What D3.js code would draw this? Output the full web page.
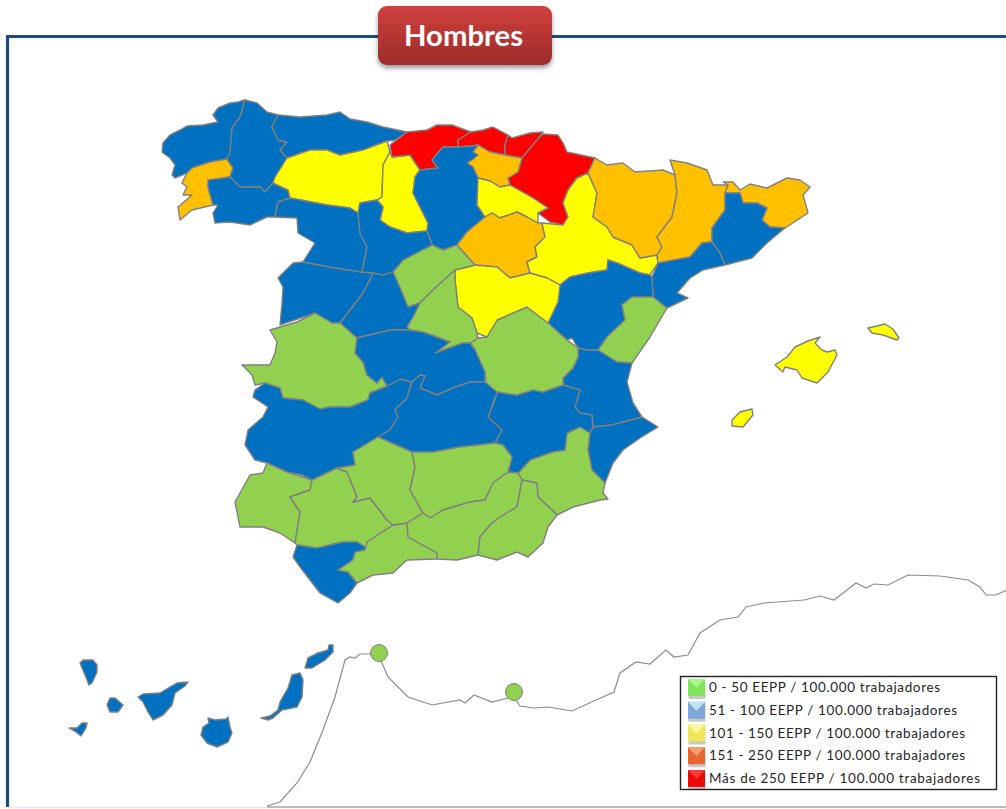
<!DOCTYPE html>
<html lang="es"><head><meta charset="utf-8"><title>Hombres</title>
<script src="https://cdn.jsdelivr.net/npm/d3@7/dist/d3.min.js"></script>
<style>html,body{margin:0;padding:0;background:#fff}svg{display:block}</style></head>
<body><svg id="c" width="1006" height="809"></svg>
<script>
const title = "Hombres";
const legendLabels = ["0 - 50 EEPP / 100.000 trabajadores","51 - 100 EEPP / 100.000 trabajadores","101 - 150 EEPP / 100.000 trabajadores","151 - 250 EEPP / 100.000 trabajadores","Más de 250 EEPP / 100.000 trabajadores"];
const legendEnds = [940,957,965,965,980];
const levelIds = [0,1,2,3,4];
const levelColors = ["#92d050","#006fc0","#ffff00","#ffc000","#ff0000"];
const swatchColors = ["#7fe35c","#7fa8d8","#efe65a","#e8652e","#ee0a0a"];
const swatchLights = ["#a8f58a","#c4e2f8","#fbf6a0","#f9a070","#ff3a3a"];

const provinceNames = ["A Coruña","Pontevedra","Lugo","Ourense","Asturias","León","Palencia","Cantabria","Bizkaia","Gipuzkoa","Navarra","Álava","Burgos","La Rioja","Soria","Zaragoza","Huesca","Lleida","Girona","Barcelona","Tarragona","Teruel","Castellón","Valencia","Alicante","Murcia","Albacete","Cuenca","Guadalajara","Segovia","Madrid","Ávila","Salamanca","Zamora","Valladolid","Cáceres","Badajoz","Toledo","Ciudad Real","Huelva","Sevilla","Cádiz","Málaga","Córdoba","Jaén","Granada","Almería","Mallorca","Menorca","Ibiza","La Palma","La Gomera","El Hierro","Tenerife","Gran Canaria","Fuerteventura","Lanzarote"];
const provinceLevels = [1,3,1,1,1,2,2,4,4,4,4,3,1,2,3,2,3,3,3,1,1,1,0,1,1,0,1,0,2,0,0,1,1,1,1,0,1,1,1,0,0,1,0,0,0,0,0,2,2,2,1,1,1,1,1,1,1];
const provinceOutlines = [
[[162,152],[163,143],[170,135],[180,130],[187,126],[203,125],[218,122],[213,115],[218,108],[230,103],[238,102],[245,100],[240,117],[232,128],[230,153],[227,159],[210,162],[192,168],[187,173],[175,178],[172,175],[175,165],[170,158],[163,153]],
[[192,168],[210,162],[227,159],[233,168],[230,177],[210,180],[208,187],[213,205],[192,210],[180,220],[178,207],[192,195],[183,195],[187,187],[182,183],[187,173]],
[[245,100],[257,103],[267,112],[278,115],[272,127],[278,140],[287,142],[280,150],[287,158],[275,177],[273,183],[265,192],[260,187],[240,187],[230,177],[233,168],[227,159],[230,153],[232,128],[240,117]],
[[208,180],[230,177],[240,187],[260,187],[265,192],[273,183],[288,190],[290,198],[278,202],[275,217],[267,217],[250,225],[230,222],[215,223],[213,213],[218,205],[213,205],[208,187]],
[[278,115],[300,117],[327,115],[340,112],[350,119],[367,122],[383,127],[407,132],[395,140],[387,141],[363,150],[340,155],[327,150],[310,150],[287,158],[280,150],[287,142],[278,140],[272,127]],
[[287,158],[310,150],[327,150],[340,155],[363,150],[387,141],[390,152],[383,165],[382,197],[377,200],[360,203],[358,213],[350,208],[327,205],[290,198],[288,190],[273,183],[275,177]],
[[390,152],[392,157],[410,155],[420,170],[415,177],[413,193],[428,223],[427,231],[407,233],[390,227],[380,220],[383,207],[377,200],[382,197],[383,165]],
[[407,132],[427,130],[437,125],[452,125],[471,132],[458,140],[458,147],[443,147],[432,160],[438,168],[420,170],[410,155],[392,157],[390,145]],
[[471,132],[483,130],[493,127],[508,135],[505,145],[505,155],[490,152],[478,145],[472,146],[458,147],[458,140]],
[[508,135],[512,138],[530,133],[543,132],[537,140],[522,158],[505,155],[505,145]],
[[537,140],[543,134],[558,135],[563,143],[567,152],[595,158],[588,173],[577,178],[568,190],[563,203],[568,217],[563,225],[550,222],[538,213],[548,208],[533,198],[510,185],[508,178],[518,172],[522,158]],
[[478,145],[490,152],[505,155],[522,158],[518,172],[508,178],[510,185],[500,187],[490,181],[478,178],[473,167],[467,163],[473,159],[478,155],[473,152]],
[[438,168],[432,160],[443,147],[458,147],[472,146],[478,145],[473,152],[478,155],[473,159],[467,163],[473,167],[478,178],[477,205],[485,217],[467,232],[457,245],[443,250],[432,245],[427,231],[428,223],[413,193],[415,177],[420,170]],
[[478,178],[490,181],[500,187],[510,185],[533,198],[548,208],[538,213],[538,223],[527,217],[517,212],[500,218],[492,213],[485,217],[477,205]],
[[485,217],[492,213],[500,218],[517,212],[527,217],[538,223],[542,223],[545,237],[535,247],[537,257],[527,262],[530,273],[510,278],[497,267],[475,265],[457,245],[467,232]],
[[588,173],[597,193],[593,217],[607,227],[613,237],[632,245],[640,258],[657,255],[658,263],[650,275],[640,273],[617,263],[608,260],[607,270],[588,273],[570,277],[560,285],[547,278],[530,273],[527,262],[537,257],[535,247],[545,237],[542,223],[563,225],[568,217],[563,203],[568,190],[577,178]],
[[595,158],[607,165],[623,163],[635,172],[663,170],[675,175],[677,193],[672,217],[657,237],[662,247],[657,255],[640,258],[632,245],[613,237],[607,227],[593,217],[597,193],[588,173]],
[[670,160],[687,163],[707,170],[713,185],[728,185],[725,193],[725,210],[712,228],[712,242],[702,243],[690,257],[658,263],[657,255],[662,247],[657,237],[672,217],[677,193],[675,175]],
[[723,182],[733,182],[740,190],[750,184],[767,188],[787,178],[800,180],[810,187],[803,195],[808,213],[785,228],[770,227],[762,220],[767,208],[757,203],[743,203],[740,193],[725,193],[728,185]],
[[725,193],[740,193],[743,203],[757,203],[767,208],[762,220],[770,227],[785,228],[767,243],[752,258],[725,265],[720,253],[712,242],[712,228],[725,210]],
[[702,243],[712,242],[720,253],[725,265],[703,270],[690,278],[677,293],[688,298],[667,308],[653,297],[652,277],[658,263],[690,257]],
[[560,285],[570,277],[588,273],[607,270],[608,260],[617,263],[640,273],[650,275],[652,277],[653,297],[632,297],[622,305],[625,320],[607,337],[598,350],[587,350],[578,348],[572,338],[567,340],[548,323],[558,302]],
[[632,297],[653,297],[667,308],[650,337],[632,363],[617,362],[598,350],[607,337],[625,320],[622,305]],
[[578,348],[587,350],[598,350],[617,362],[632,363],[627,382],[633,403],[642,417],[612,425],[593,427],[592,415],[580,413],[575,407],[580,390],[563,385],[563,378],[573,368],[578,357]],
[[593,427],[612,425],[642,417],[658,427],[640,438],[623,450],[613,463],[605,483],[592,470],[588,450],[590,433]],
[[590,433],[580,427],[567,433],[565,450],[552,452],[530,460],[518,473],[522,480],[537,483],[538,497],[557,515],[573,507],[600,500],[608,499],[603,493],[605,483],[592,470],[588,450]],
[[497,392],[517,395],[533,390],[543,392],[563,385],[580,390],[575,407],[580,413],[592,415],[593,427],[590,433],[580,427],[567,433],[565,450],[552,452],[530,460],[518,473],[508,472],[512,457],[503,445],[495,443],[502,430],[488,417],[495,400]],
[[478,338],[487,337],[497,320],[527,307],[548,323],[567,340],[578,348],[578,357],[573,368],[563,378],[563,385],[543,392],[533,390],[517,395],[497,392],[487,388],[485,372],[475,350],[470,343]],
[[455,270],[475,265],[497,267],[510,278],[530,273],[547,278],[560,285],[558,302],[548,323],[527,307],[497,320],[487,337],[477,333],[472,318],[458,307],[455,280]],
[[393,272],[403,260],[432,245],[443,250],[457,245],[475,265],[455,270],[433,290],[420,303],[408,307],[398,283]],
[[455,270],[455,280],[458,307],[472,318],[477,333],[478,338],[470,343],[463,343],[435,353],[450,342],[423,332],[410,330],[407,327],[413,317],[420,303],[433,290]],
[[393,272],[398,283],[408,307],[420,303],[413,317],[407,327],[410,330],[390,330],[357,338],[340,323],[350,310],[363,293],[373,273]],
[[278,278],[293,263],[303,262],[330,267],[362,272],[373,273],[363,293],[350,310],[340,323],[332,323],[315,313],[280,325],[282,303],[283,287]],
[[278,202],[290,198],[327,205],[350,208],[358,213],[360,233],[367,247],[362,272],[330,267],[303,262],[315,243],[298,233],[297,218],[275,217]],
[[360,203],[377,200],[383,207],[380,220],[390,227],[407,233],[427,231],[432,245],[403,260],[393,272],[383,275],[373,273],[362,272],[367,247],[360,233],[358,213]],
[[270,330],[297,322],[315,313],[332,323],[340,323],[357,338],[355,353],[363,362],[367,375],[377,383],[382,377],[387,386],[370,393],[368,400],[350,407],[330,407],[320,409],[303,400],[283,398],[280,388],[265,383],[255,385],[252,375],[242,365],[270,365],[275,353],[277,342]],
[[255,390],[265,383],[280,388],[283,398],[303,400],[320,409],[330,407],[350,407],[368,400],[370,393],[387,386],[400,379],[412,382],[407,398],[395,410],[398,417],[390,430],[378,437],[353,452],[355,465],[337,468],[312,480],[302,475],[287,472],[267,463],[255,460],[245,445],[248,430],[263,417],[268,407],[253,397]],
[[357,338],[390,330],[410,330],[423,332],[450,342],[435,353],[463,343],[470,343],[475,350],[485,372],[485,382],[470,382],[453,388],[437,395],[420,388],[425,376],[420,375],[412,382],[400,379],[387,386],[382,377],[377,383],[367,375],[363,362],[355,353]],
[[412,382],[420,375],[425,376],[420,388],[437,395],[453,388],[470,382],[485,382],[497,392],[488,417],[502,430],[495,443],[460,447],[433,452],[412,452],[378,437],[390,430],[398,417],[395,410],[407,398]],
[[267,463],[287,472],[312,480],[310,490],[290,497],[300,512],[295,543],[280,533],[263,527],[240,527],[235,502],[250,475],[263,473]],
[[312,480],[337,468],[347,472],[357,497],[353,502],[370,498],[377,507],[387,520],[393,525],[367,542],[367,548],[357,542],[343,542],[317,548],[297,545],[295,543],[300,512],[290,497],[310,490]],
[[297,545],[317,548],[343,542],[357,542],[367,548],[365,550],[355,552],[353,560],[338,570],[348,572],[357,583],[350,593],[338,603],[320,593],[300,567],[293,557]],
[[393,525],[407,523],[408,537],[437,553],[437,559],[407,560],[393,573],[373,575],[357,583],[348,572],[338,570],[353,560],[355,552],[365,550],[367,542]],
[[347,472],[337,468],[355,465],[353,452],[378,437],[412,452],[415,467],[410,490],[423,513],[412,520],[407,523],[393,525],[387,520],[377,507],[370,498],[353,502],[357,497]],
[[412,452],[433,452],[460,447],[495,443],[503,445],[512,457],[508,472],[493,483],[485,500],[470,502],[443,510],[430,518],[423,513],[410,490],[415,467]],
[[407,523],[412,520],[423,513],[430,518],[443,510],[470,502],[485,500],[493,483],[508,472],[518,473],[522,480],[517,507],[500,517],[490,525],[480,537],[478,555],[457,560],[437,559],[437,553],[408,537]],
[[522,480],[537,483],[538,497],[557,515],[548,527],[543,543],[528,557],[517,552],[497,560],[478,555],[480,537],[490,525],[500,517],[517,507]],
[[775,365],[787,357],[795,347],[808,341],[820,337],[815,343],[822,350],[827,352],[835,350],[837,355],[828,372],[817,383],[802,378],[797,370],[785,367],[783,372]],
[[868,328],[877,326],[885,324],[893,329],[899,338],[897,340],[883,335],[872,333]],
[[732,420],[740,412],[752,409],[753,415],[743,427],[732,426]],
[[80,663],[83,660],[93,660],[97,665],[97,672],[92,683],[89,685],[85,675]],
[[107,705],[110,698],[115,698],[123,705],[118,712],[110,712]],
[[69,728],[77,728],[82,723],[87,723],[86,728],[81,736],[76,732]],
[[138,697],[143,694],[160,693],[170,687],[177,683],[188,682],[185,686],[175,693],[172,705],[163,715],[153,720],[148,712],[143,702]],
[[208,718],[215,720],[226,719],[228,717],[230,727],[232,733],[228,742],[217,747],[207,743],[201,735],[203,727],[209,723]],
[[261,718],[270,716],[278,710],[280,702],[288,688],[292,675],[300,673],[303,680],[302,697],[297,707],[282,710],[273,718],[268,720]],
[[305,668],[308,658],[318,653],[328,650],[329,645],[333,645],[333,652],[325,660],[312,668]]
];
const cities = [{name:"Ceuta",level:0,at:[379,653]},{name:"Melilla",level:0,at:[514,692]}];
const moroccoCoast = [[267,806],[280,802],[297,783],[310,762],[323,730],[335,697],[345,660],[350,657],[355,658],[360,654],[370,654],[379,653],[382,663],[388,677],[408,697],[432,705],[460,700],[465,703],[474,695],[492,702],[508,698],[514,692],[516,700],[520,706],[534,708],[548,707],[572,711],[596,700],[614,692],[620,673],[636,662],[650,664],[666,650],[674,657],[688,655],[700,633],[720,620],[738,617],[746,607],[764,603],[804,600],[820,596],[834,600],[856,583],[866,588],[874,584],[888,585],[908,575],[940,576],[968,580],[980,587],[986,595],[996,595],[1007,590]];

const svg = d3.select("#c");
const defs = svg.append("defs");
const grad = defs.append("linearGradient").attr("id","btn").attr("x1",0).attr("y1",0).attr("x2",0).attr("y2",1);
grad.append("stop").attr("offset",0).attr("stop-color","#cf403c");
grad.append("stop").attr("offset",1).attr("stop-color","#9d2c2a");
const sh = defs.append("filter").attr("id","sh").attr("x","-10%").attr("y","-20%").attr("width","120%").attr("height","150%");
sh.append("feDropShadow").attr("dx",0).attr("dy",3).attr("stdDeviation",2.5).attr("flood-color","#000").attr("flood-opacity",.4);
const soft = defs.append("filter").attr("id","soft");
soft.append("feGaussianBlur").attr("stdDeviation",.5);

// frame
svg.append("path").attr("d","M1006,36.5H7.5V807").attr("fill","none").attr("stroke","#1f497d").attr("stroke-width",3.2);
svg.append("path").attr("d","M9,807.5H267").attr("stroke","#dfe8f0").attr("stroke-width",1.5);
svg.append("path").attr("d","M267,807H1006").attr("stroke","#a6a6a6").attr("stroke-width",1.5);

// map
const path = d3.geoPath(d3.geoIdentity()).pointRadius(8.5);
const color = d3.scaleOrdinal().domain(levelIds).range(levelColors);
const features = provinceNames.map((name,i)=>({type:"Feature",properties:{name,level:provinceLevels[i]},
  geometry:{type:"Polygon",coordinates:[[...provinceOutlines[i],provinceOutlines[i][0]]]}}));
const map = svg.append("g").attr("filter","url(#soft)");
map.append("path").datum({type:"LineString",coordinates:moroccoCoast}).attr("d",path)
  .attr("fill","none").attr("stroke","#8c8c8c").attr("stroke-width",1.2);
map.selectAll("path.prov").data(features).join("path").attr("class","prov").attr("d",path)
  .attr("fill",d=>color(d.properties.level)).attr("stroke","#808080").attr("stroke-width",1.4).attr("stroke-linejoin","round");
map.selectAll("path.city").data(cities).join("path").attr("class","city")
  .attr("d",d=>path({type:"Point",coordinates:d.at}))
  .attr("fill",d=>color(d.level)).attr("stroke","#808080").attr("stroke-width",1);

// title button
svg.append("rect").attr("x",378).attr("y",6).attr("width",174).attr("height",59).attr("rx",9)
  .attr("fill","url(#btn)").attr("filter","url(#sh)");
svg.append("text").attr("x",404).attr("y",45.5).attr("fill","#fff")
  .attr("font-family","Lato, 'Open Sans', sans-serif").attr("font-weight",700).attr("font-size",28)
  .attr("textLength",119).attr("lengthAdjust","spacingAndGlyphs").text(title);

// legend
svg.append("rect").attr("x",680.5).attr("y",676.5).attr("width",316).attr("height",113).attr("fill","#fff").attr("stroke","#222").attr("stroke-width",1.4);
const rowY = d3.scalePoint().domain(levelIds).range([687,778]);
const rows = svg.selectAll("g.row").data(levelIds).join("g").attr("class","row").attr("transform",i=>`translate(0,${rowY(i)})`);
rows.append("rect").attr("x",688).attr("y",-7).attr("width",17).attr("height",17).attr("fill","#000").attr("opacity",.22).attr("transform","translate(0.5,2)");
rows.append("rect").attr("x",688).attr("y",-8).attr("width",17).attr("height",17).attr("fill",i=>swatchColors[i]);
rows.append("path").attr("d","M688,-8h17l-8.5,9z").attr("fill",i=>swatchLights[i]);
rows.append("text").attr("x",709).attr("y",5).attr("fill","#262626")
  .attr("font-family","Lato, 'Open Sans', sans-serif").attr("font-size",13.5)
  .attr("textLength",i=>legendEnds[i]-709).attr("lengthAdjust","spacing").text(i=>legendLabels[i]);
</script></body></html>
